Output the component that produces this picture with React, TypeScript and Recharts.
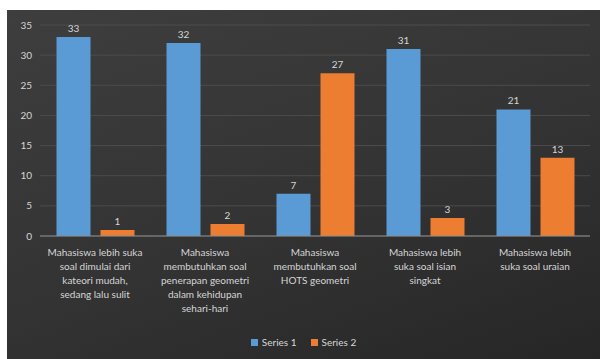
import React from "react";
import { Bar, BarChart, CartesianGrid, LabelList, XAxis, YAxis } from "recharts";

const categories = [
	"Mahasiswa lebih suka\nsoal dimulai dari\nkateori mudah,\nsedang lalu sulit",
	"Mahasiswa\nmembutuhkan soal\npenerapan geometri\ndalam kehidupan\nsehari-hari",
	"Mahasiswa\nmembutuhkan soal\nHOTS geometri",
	"Mahasiswa lebih\nsuka soal isian\nsingkat",
	"Mahasiswa lebih\nsuka soal uraian",
];
const series1 = [33, 32, 7, 31, 21];
const series2 = [1, 2, 27, 3, 13];
const yTicks = [0, 5, 10, 15, 20, 25, 30, 35];

const data = categories.map((name, i) => ({ name, s1: series1[i], s2: series2[i] }));

const TEXT = "#d6d6d6";
const FONT = "Lato, 'Open Sans', sans-serif";

function CategoryTick(props: any) {
	const { x, y, payload } = props;
	const lines = String(payload.value).split("\n");
	return <g transform={`translate(${x},${y})`}>
		{lines.map((l, i) => (
			<text key={i} x={0} y={12 + i * 14} textAnchor="middle" fill={TEXT} fontSize={10} fontFamily={FONT}>{l}</text>
		))}
	</g>;
}

function LegendBox() {
	const items = [
		{ label: "Series 1", color: "#5b9bd5" },
		{ label: "Series 2", color: "#ed7d31" },
	];
	return <div style={{ position: "absolute", left: 0, top: 326, width: 593, display: "flex", justifyContent: "center", gap: 14, fontFamily: FONT, fontSize: 10, color: TEXT }}>
		{items.map(it => (
			<div key={it.label} style={{ display: "flex", alignItems: "center", gap: 4 }}>
				<span style={{ width: 7, height: 7, background: it.color, display: "inline-block" }} />
				<span>{it.label}</span>
			</div>
		))}
	</div>;
}

export default function App() {
	return <div style={{ position: "absolute", left: 0, top: 0, width: 602, height: 359, background: "#ffffff", overflow: "hidden" }}>
		<div style={{
			position: "absolute", left: 7, top: 10, width: 593, height: 349,
			background: "linear-gradient(160deg, #3e3e3e 0%, #333333 55%, #262626 100%)",
		}}>
			<BarChart
				width={593}
				height={349}
				data={data}
				margin={{ top: 15, right: 10, bottom: 0, left: 0 }}
				barGap={10}
				barCategoryGap="15%"
			>
				<CartesianGrid vertical={false} stroke="#4c4c4c" />
				<XAxis
					dataKey="name"
					interval={0}
					height={123}
					tick={<CategoryTick />}
					tickLine={false}
					axisLine={{ stroke: "#8c8c8c" }}
				/>
				<YAxis
					ticks={yTicks}
					domain={[0, 35]}
					width={33}
					axisLine={false}
					tickLine={false}
					tick={{ fill: TEXT, fontSize: 10, fontFamily: FONT }}
				/>
				<Bar dataKey="s1" name="Series 1" fill="#5b9bd5" isAnimationActive={false}>
					<LabelList dataKey="s1" position="top" fill={TEXT} fontSize={10} fontFamily={FONT} />
				</Bar>
				<Bar dataKey="s2" name="Series 2" fill="#ed7d31" isAnimationActive={false}>
					<LabelList dataKey="s2" position="top" fill={TEXT} fontSize={10} fontFamily={FONT} />
				</Bar>
			</BarChart>
			<LegendBox />
		</div>
	</div>;
}
